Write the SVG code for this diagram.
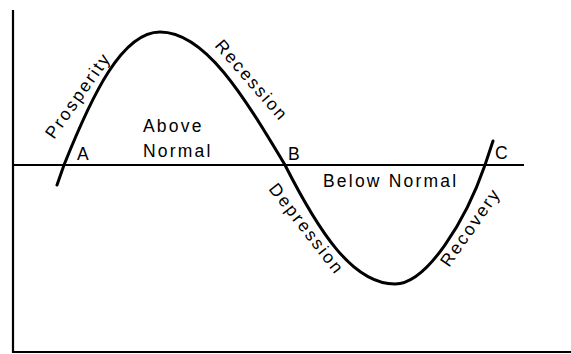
<svg xmlns="http://www.w3.org/2000/svg" width="571" height="354" viewBox="0 0 571 354">
<style>
.ax{stroke:#000;stroke-width:2.2;fill:none}
.cv{stroke:#000;stroke-width:3;fill:none;stroke-linecap:round}
text{font-family:"Liberation Sans",Arial,sans-serif;font-size:17.5px;fill:#000;letter-spacing:2.2px}
.pt{font-size:17.5px;letter-spacing:0}
</style>
<rect width="571" height="354" fill="#fff"/>
<g id="axes">
<line class="ax" x1="13" y1="10" x2="13" y2="353"/>
<line class="ax" x1="13" y1="352" x2="571" y2="352"/>
<line class="ax" x1="13" y1="165" x2="524" y2="165"/>
</g>
<g id="curve">
<path class="cv" d="M57,185 L64,165 C92,95 122,32 160,32 C205,32 243,95 285,165 C318,230 352,284 395,284 C427,284 466,220 485,165 L493,141"/>
</g>
<g id="labels">
<text x="143" y="132">Above</text>
<text x="143" y="157">Normal</text>
<text x="323" y="187">Below Normal</text>
<text class="pt" x="77" y="160">A</text>
<text class="pt" x="288" y="160">B</text>
<text class="pt" x="495" y="159">C</text>
<text transform="translate(54,140) rotate(-55)">Prosperity</text>
<text transform="translate(214,46) rotate(49)">Recession</text>
<text transform="translate(268,189) rotate(52)">Depression</text>
<text transform="translate(449,268) rotate(-55)">Recovery</text>
</g>
</svg>
